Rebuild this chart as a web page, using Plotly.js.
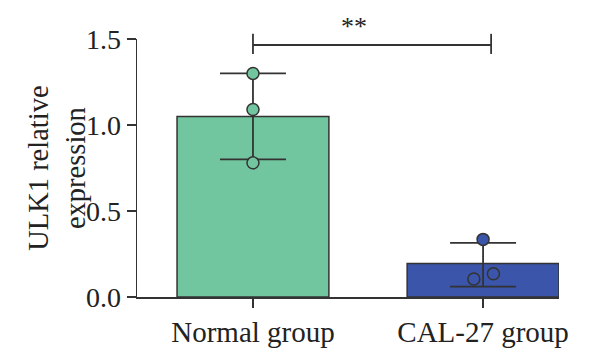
<!DOCTYPE html>
<html>
<head>
<meta charset="utf-8">
<script src="https://cdn.plot.ly/plotly-3.0.1.min.js"></script>
<style>html,body{margin:0;padding:0;background:#fff;}#chart{width:600px;height:351px;}</style>
</head>
<body>
<div id="chart"></div>
<script>
// ---- data ----
var categories = ["Normal group", "CAL-27 group"];
var barMeans = [1.05, 0.195];
var errPlus = [0.25, 0.12];
var errMinus = [0.25, 0.135];
var normalPoints = [1.30, 1.09, 0.78];
var normalJitter = [0, 0, 0];
var calPoints = [0.335, 0.105, 0.135];
var calJitter = [0, -0.04, 0.045];
var yTicks = [0, 0.5, 1.0, 1.5];
var yTickText = ["0.0", "0.5", "1.0", "1.5"];
var yTitle = "ULK1 relative<br>expression";
var sigLabel = "**";

var green = "#72C69F";
var blue = "#3A55A9";
var ink = "#333333";
var serif = "'Liberation Serif', 'DejaVu Serif', serif";

var catIdx = categories.map(function (c, i) { return i; });

var traces = [
  {
    type: "bar",
    x: catIdx,
    y: barMeans,
    width: 0.66,
    marker: { color: [green, blue], line: { color: ink, width: 1.5 } },
    error_y: { type: "data", symmetric: false, array: errPlus, arrayminus: errMinus,
               color: ink, thickness: 1.8, width: 33 },
    hoverinfo: "skip"
  },
  {
    type: "scatter", mode: "markers",
    x: normalPoints.map(function (v, i) { return 0 + normalJitter[i]; }),
    y: normalPoints,
    marker: { size: 12, color: green, line: { color: ink, width: 1.5 } },
    cliponaxis: false
  },
  {
    type: "scatter", mode: "markers",
    x: calPoints.map(function (v, i) { return 1 + calJitter[i]; }),
    y: calPoints,
    marker: { size: 12, color: [blue, "rgba(0,0,0,0)", "rgba(0,0,0,0)"],
              line: { color: ink, width: 1.5 } },
    cliponaxis: false
  }
];

var layout = {
  width: 600, height: 351,
  margin: { l: 137, r: 41, t: 39, b: 54 },
  paper_bgcolor: "#fff", plot_bgcolor: "#fff",
  showlegend: false,
  font: { family: serif, color: "#222", size: 28 },
  xaxis: {
    range: [-0.504, 1.33],
    tickvals: catIdx, ticktext: categories,
    showline: true, linecolor: ink, linewidth: 1.5,
    ticks: "outside", ticklen: 9, tickwidth: 1.5, tickcolor: ink,
    showgrid: false, zeroline: false,
    tickfont: { family: serif, size: 29, color: "#222" }
  },
  yaxis: {
    range: [0, 1.5],
    tickvals: yTicks, ticktext: yTickText,
    showline: true, linecolor: ink, linewidth: 1.5,
    ticks: "outside", ticklen: 9, tickwidth: 1.5, tickcolor: ink,
    showgrid: false, zeroline: false,
    tickfont: { family: serif, size: 28, color: "#222" }
  },
  shapes: [
    { type: "line", xref: "x", yref: "y", x0: 0, x1: 1.035, y0: 1.465, y1: 1.465,
      line: { color: ink, width: 1.8 } },
    { type: "line", xref: "x", yref: "paper", x0: 0, x1: 0, y0: 0.942, y1: 1.02,
      line: { color: ink, width: 1.8 } },
    { type: "line", xref: "x", yref: "paper", x0: 1.035, x1: 1.035, y0: 0.942, y1: 1.02,
      line: { color: ink, width: 1.8 } }
  ],
  annotations: [
    { xref: "x", yref: "paper", x: 0.44, y: 1.05, text: sigLabel, showarrow: false,
      font: { family: serif, size: 26, color: "#222" }, yanchor: "middle" },
    { xref: "paper", yref: "paper", x: -0.19, y: 0.5, text: yTitle, showarrow: false,
      textangle: -90, xanchor: "center", yanchor: "middle",
      font: { family: serif, size: 28.5, color: "#222" } }
  ]
};

Plotly.newPlot("chart", traces, layout, { displayModeBar: false, staticPlot: true });
</script>
</body>
</html>
